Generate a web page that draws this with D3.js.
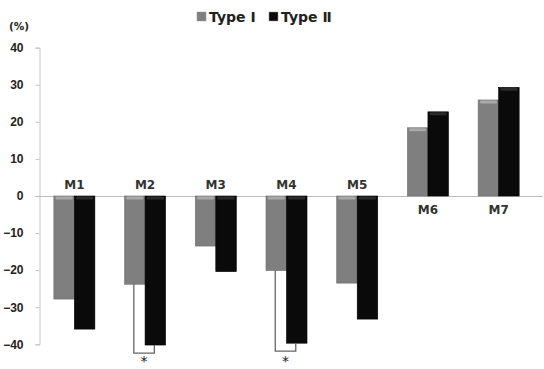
<!DOCTYPE html>
<html>
<head>
<meta charset="utf-8">
<script src="https://cdn.jsdelivr.net/npm/d3@7"></script>
<style>
  body { margin: 0; background: #fff; }
  svg { display: block; font-family: "DejaVu Sans", "Noto Sans", sans-serif; }
</style>
</head>
<body>
<script>
// chart data
const categories = ["M1", "M2", "M3", "M4", "M5", "M6", "M7"];
const seriesNames = ["Type Ⅰ", "Type Ⅱ"];
const typeI = [-27.8, -23.8, -13.5, -20.1, -23.5, 18.4, 25.9];
const typeII = [-35.9, -40.2, -20.4, -39.7, -33.2, 22.7, 29.3];
const yTicks = [40, 30, 20, 10, 0, -10, -20, -30, -40];
// pairs that carry a significance bracket
const significant = ["M2", "M4"];

const width = 544;
const height = 369;
const colors = { "Type Ⅰ": "#7f7f7f", "Type Ⅱ": "#0a0a0a" };
const capColors = { "Type Ⅰ": "#a9a9a9", "Type Ⅱ": "#2a2a2a" };
const edgeColors = { "Type Ⅰ": "#6e6e6e", "Type Ⅱ": "#000" };

const rows = categories.map((c, i) => ({ cat: c, values: [typeI[i], typeII[i]] }));

const y = d3.scaleLinear().domain([-40, 40]).range([344.3, 47.7]);
const x0 = d3.scaleBand().domain(categories).range([39, 534])
  .paddingInner(0.42).paddingOuter(0.21);
const x1 = d3.scaleBand().domain(seriesNames).range([0, x0.bandwidth()]);

const svg = d3.create("svg").attr("width", width).attr("height", height);

// y axis
const gy = svg.append("g")
  .attr("transform", "translate(39.5,0)")
  .call(d3.axisLeft(y).tickValues(yTicks).tickSize(4).tickPadding(12));
gy.select(".domain").attr("stroke", "#c4c4c4");
gy.selectAll(".tick line").attr("stroke", "#c4c4c4");
gy.selectAll(".tick text")
  .attr("fill", "#222").attr("font-size", 12).attr("font-weight", "bold");

svg.append("text")
  .attr("x", 9).attr("y", 30)
  .attr("font-size", 10.5).attr("font-weight", "bold").attr("fill", "#222")
  .text("(%)");

// zero line
svg.append("line")
  .attr("x1", 35).attr("x2", 543)
  .attr("y1", Math.round(y(0)) + 0.5).attr("y2", Math.round(y(0)) + 0.5)
  .attr("stroke", "#bdbdbd");

// bars
const groups = svg.append("g").selectAll("g")
  .data(rows).join("g")
  .attr("transform", d => `translate(${x0(d.cat)},0)`);

const bars = groups.selectAll("g")
  .data(d => d.values.map((v, i) => ({ key: seriesNames[i], v })))
  .join("g");

bars.append("rect")
  .attr("x", d => x1(d.key))
  .attr("width", x1.bandwidth())
  .attr("y", d => y(Math.max(0, d.v)))
  .attr("height", d => Math.abs(y(d.v) - y(0)))
  .attr("fill", d => colors[d.key])
  .attr("stroke", d => edgeColors[d.key])
  .attr("stroke-width", 0.6);

bars.append("rect")
  .attr("x", d => x1(d.key) + 1.5)
  .attr("width", x1.bandwidth() - 3)
  .attr("y", d => y(Math.max(0, d.v)) + 0.5)
  .attr("height", 3)
  .attr("rx", 1.5)
  .attr("fill", d => capColors[d.key]);

// category labels
groups.append("text")
  .attr("x", x0.bandwidth() / 2)
  .attr("y", d => d.values[0] < 0 ? y(0) - 7 : y(0) + 18)
  .attr("text-anchor", "middle")
  .attr("font-size", 12).attr("font-weight", "bold").attr("fill", "#333")
  .text(d => d.cat);

// significance brackets
const sig = rows.filter(d => significant.includes(d.cat));
const bracket = svg.append("g").selectAll("g").data(sig).join("g");
bracket.append("path")
  .attr("fill", "none").attr("stroke", "#666").attr("stroke-width", 1.3)
  .attr("d", d => {
    const xa = x0(d.cat) + x1(seriesNames[0]) + x1.bandwidth() / 2 - 1;
    const xb = x0(d.cat) + x1(seriesNames[1]) + x1.bandwidth() / 2 - 1;
    const yb = y(Math.min(...d.values)) + 8;
    return `M${xa},${y(d.values[0])}V${yb}H${xb}V${y(d.values[1])}`;
  });
bracket.append("text")
  .attr("x", d => x0(d.cat) + x1.bandwidth() - 1)
  .attr("y", 366)
  .attr("text-anchor", "middle")
  .attr("font-size", 14).attr("fill", "#222")
  .text("*");

// legend
const legend = svg.append("g").attr("transform", "translate(197,12)");
const items = legend.selectAll("g").data(seriesNames).join("g")
  .attr("transform", (d, i) => `translate(${i * 72},0)`);
items.append("rect")
  .attr("width", 9).attr("height", 9)
  .attr("fill", d => colors[d]).attr("stroke", "#999").attr("stroke-width", 0.5);
items.append("text")
  .attr("x", 12).attr("y", 10)
  .attr("font-size", 14).attr("font-weight", "bold").attr("fill", "#222")
  .text(d => d);

document.body.appendChild(svg.node());
</script>
</body>
</html>
